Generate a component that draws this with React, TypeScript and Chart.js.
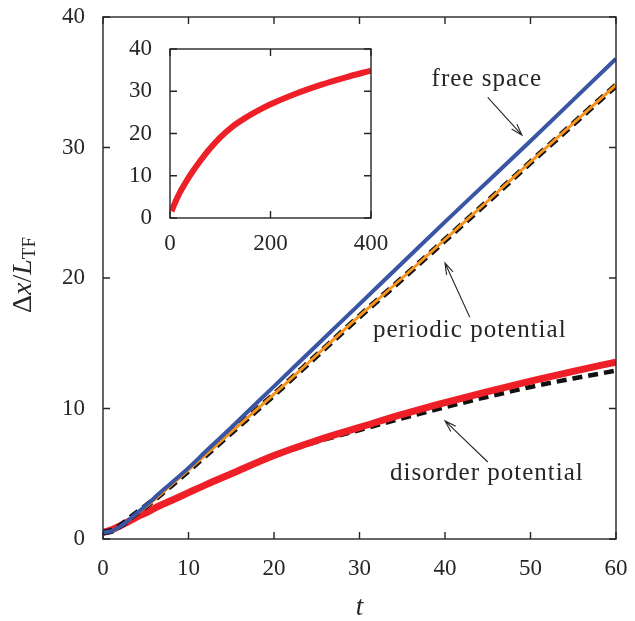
import React, { useEffect, useRef } from "react";
import { Chart, registerables } from "chart.js";

Chart.register(...registerables);

// ---- data ----
const timeMain = [0, 1, 2, 3, 4, 5, 6, 8, 10, 12, 15, 20, 25, 30, 35, 40, 45, 50, 55, 60];
const freeSpace = [0.5, 0.6, 0.95, 1.45, 2.0, 2.55, 3.15, 4.3, 5.45, 6.7, 8.55, 11.7, 14.85, 18.0, 21.15, 24.3, 27.4, 30.5, 33.65, 36.8];
const periodicSim = [0.5, 0.6, 0.95, 1.45, 1.95, 2.45, 3.0, 4.15, 5.3, 6.45, 8.2, 11.1, 14.1, 17.1, 20.0, 22.95, 25.9, 28.9, 31.85, 34.8];
const periodicModel = [0.5, 0.62, 1.0, 1.5, 2.02, 2.5, 3.03, 4.13, 5.26, 6.41, 8.16, 11.06, 14.06, 17.06, 19.96, 22.91, 25.86, 28.86, 31.81, 34.76];
const disorderSim = [0.5, 0.7, 1.0, 1.35, 1.7, 2.0, 2.35, 2.95, 3.55, 4.15, 5.0, 6.4, 7.55, 8.55, 9.55, 10.45, 11.3, 12.1, 12.85, 13.55];
const disorderModel = [0.5, 0.7, 1.0, 1.35, 1.7, 2.0, 2.35, 2.95, 3.55, 4.15, 5.0, 6.35, 7.45, 8.35, 9.25, 10.1, 10.9, 11.65, 12.3, 12.9];

const timeInset = [3, 10, 20, 30, 45, 60, 80, 100, 125, 150, 175, 200, 250, 300, 350, 400];
const disorderLong = [1.6, 3.6, 6.1, 8.2, 11.0, 13.5, 16.5, 19.1, 21.7, 23.7, 25.4, 26.9, 29.4, 31.5, 33.3, 34.9];

const mainXTicks = [0, 10, 20, 30, 40, 50, 60];
const mainYTicks = [0, 10, 20, 30, 40];
const insetXTicks = [0, 200, 400];
const insetYTicks = [0, 10, 20, 30, 40];

const annotationLabels = ["free space", "periodic potential", "disorder potential"];
// placement in data coordinates: text centre, arrow tail, arrow head
const annotationPlacement = [
  { tx: 44.9, ty: 35.2, x0: 45.0, y0: 33.85, x1: 49.0, y1: 30.95 },
  { tx: 42.9, ty: 16.0, x0: 42.9, y0: 17.0, x1: 40.0, y1: 21.15 },
  { tx: 44.9, ty: 5.05, x0: 45.0, y0: 5.9, x1: 40.0, y1: 9.05 },
];

const SERIF = '"Liberation Serif", "DejaVu Serif", serif';
const INK = "#262626";

const pts = (xs: number[], ys: number[]) => xs.map((x, i) => ({ x, y: ys[i] }));

function framePlugin(xt: number[], yt: number[], len: number) {
  return {
    id: "frameTicks",
    afterDraw(chart: any) {
      const { ctx, chartArea: a, scales } = chart;
      ctx.save();
      ctx.strokeStyle = INK;
      ctx.lineWidth = 1.4;
      ctx.beginPath();
      xt.forEach((v) => {
        const p = scales.x.getPixelForValue(v);
        ctx.moveTo(p, a.bottom);
        ctx.lineTo(p, a.bottom - len);
        ctx.moveTo(p, a.top);
        ctx.lineTo(p, a.top + len);
      });
      yt.forEach((v) => {
        const p = scales.y.getPixelForValue(v);
        ctx.moveTo(a.left, p);
        ctx.lineTo(a.left + len, p);
        ctx.moveTo(a.right, p);
        ctx.lineTo(a.right - len, p);
      });
      ctx.stroke();
      ctx.strokeRect(a.left, a.top, a.right - a.left, a.bottom - a.top);
      ctx.restore();
    },
  };
}

type Run = { text: string; font: string; dy?: number };
function drawRuns(ctx: CanvasRenderingContext2D, runs: Run[], cx: number, cy: number) {
  let total = 0;
  const widths = runs.map((r) => {
    ctx.font = r.font;
    const w = ctx.measureText(r.text).width;
    total += w;
    return w;
  });
  let x = cx - total / 2;
  ctx.textAlign = "left";
  ctx.textBaseline = "alphabetic";
  runs.forEach((r, i) => {
    ctx.font = r.font;
    ctx.fillText(r.text, x, cy + (r.dy || 0));
    x += widths[i];
  });
}

const labelsPlugin = {
  id: "labelsAndNotes",
  afterDatasetsDraw(chart: any) {
    const { ctx, chartArea: a, scales } = chart;
    const sx = scales.x, sy = scales.y;
    ctx.save();
    ctx.fillStyle = INK;
    ctx.strokeStyle = INK;
    // annotations
    annotationLabels.forEach((lab, i) => {
      const p = annotationPlacement[i];
      ctx.font = `25px ${SERIF}`;
      (ctx as any).letterSpacing = "1px";
      ctx.textAlign = "center";
      ctx.textBaseline = "middle";
      ctx.fillText(lab, sx.getPixelForValue(p.tx), sy.getPixelForValue(p.ty));
      (ctx as any).letterSpacing = "0px";
      const x0 = sx.getPixelForValue(p.x0), y0 = sy.getPixelForValue(p.y0);
      const x1 = sx.getPixelForValue(p.x1), y1 = sy.getPixelForValue(p.y1);
      ctx.lineWidth = 1.1;
      ctx.beginPath();
      ctx.moveTo(x0, y0);
      ctx.lineTo(x1, y1);
      const ang = Math.atan2(y1 - y0, x1 - x0);
      const hl = 12, hw = 0.3;
      ctx.moveTo(x1 - hl * Math.cos(ang - hw), y1 - hl * Math.sin(ang - hw));
      ctx.lineTo(x1, y1);
      ctx.lineTo(x1 - hl * Math.cos(ang + hw), y1 - hl * Math.sin(ang + hw));
      ctx.stroke();
    });
    // x axis title
    drawRuns(ctx, [{ text: "t", font: `italic 27px ${SERIF}` }], (a.left + a.right) / 2, 615);
    // y axis title
    ctx.translate(31, (a.top + a.bottom) / 2 - 3);
    ctx.rotate(-Math.PI / 2);
    drawRuns(
      ctx,
      [
        { text: "Δ", font: `28px ${SERIF}` },
        { text: "x", font: `italic 28px ${SERIF}` },
        { text: "/", font: `28px ${SERIF}` },
        { text: "L", font: `italic 28px ${SERIF}` },
        { text: "TF", font: `19px ${SERIF}`, dy: 4 },
      ],
      0,
      0
    );
    ctx.restore();
  },
};

const noPad = (s: any) => {
  s.paddingTop = 0;
  s.paddingBottom = 0;
  s.paddingLeft = 0;
  s.paddingRight = 0;
};

export default function App() {
  const mainRef = useRef<HTMLCanvasElement>(null);
  const insetRef = useRef<HTMLCanvasElement>(null);

  useEffect(() => {
    const tickFont = { family: SERIF, size: 23 };
    const main = new Chart(mainRef.current!, {
      type: "line",
      data: {
        datasets: [
          { data: pts(timeMain, freeSpace), borderColor: "#3a55a4", borderWidth: 4 },
          { data: pts(timeMain, periodicSim), borderColor: "#f7941d", borderWidth: 3 },
          { data: pts(timeMain, periodicModel), borderColor: "#111", borderWidth: 6, borderDash: [10, 6] },
          { data: pts(timeMain, disorderSim), borderColor: "#ee1f27", borderWidth: 7 },
          { data: pts(timeMain, disorderModel), borderColor: "#111", borderWidth: 4.5, borderDash: [10, 6] },
        ].map((d) => ({ ...d, pointRadius: 0, fill: false, cubicInterpolationMode: "monotone" as const })),
      },
      options: {
        animation: false,
        responsive: false,
        events: [],
        layout: { padding: { left: 0, right: 19, top: 17, bottom: 0 } },
        plugins: { legend: { display: false }, tooltip: { enabled: false } },
        scales: {
          x: {
            type: "linear",
            min: 0,
            max: 60,
            grid: { display: false, drawTicks: false },
            border: { display: false },
            ticks: { stepSize: 10, font: tickFont, color: INK, padding: 16, maxRotation: 0 },
            afterFit: (s: any) => { s.height = 82; noPad(s); },
          },
          y: {
            type: "linear",
            min: 0,
            max: 40,
            grid: { display: false, drawTicks: false },
            border: { display: false },
            ticks: { stepSize: 10, font: tickFont, color: INK, padding: 18 },
            afterFit: (s: any) => { s.width = 103; noPad(s); },
          },
        },
      },
      plugins: [framePlugin(mainXTicks, mainYTicks, 7), labelsPlugin],
    });

    const inset = new Chart(insetRef.current!, {
      type: "line",
      data: {
        datasets: [
          {
            data: pts(timeInset, disorderLong),
            borderColor: "#ee1f27",
            borderWidth: 6,
            pointRadius: 0,
            fill: false,
            cubicInterpolationMode: "monotone",
          },
        ],
      },
      options: {
        animation: false,
        responsive: false,
        events: [],
        layout: { padding: { left: 0, right: 19, top: 24, bottom: 0 } },
        plugins: { legend: { display: false }, tooltip: { enabled: false } },
        scales: {
          x: {
            type: "linear",
            min: 0,
            max: 400,
            grid: { display: false, drawTicks: false },
            border: { display: false },
            ticks: { stepSize: 200, font: tickFont, color: INK, padding: 12, maxRotation: 0 },
            afterFit: (s: any) => { s.height = 52; noPad(s); },
          },
          y: {
            type: "linear",
            min: 0,
            max: 40,
            grid: { display: false, drawTicks: false },
            border: { display: false },
            ticks: { stepSize: 10, font: tickFont, color: INK, padding: 18 },
            afterFit: (s: any) => { s.width = 70; noPad(s); },
          },
        },
      },
      plugins: [framePlugin(insetXTicks, insetYTicks, 7)],
    });

    return () => {
      main.destroy();
      inset.destroy();
    };
  }, []);

  return (
    <div style={{ position: "fixed", left: 0, top: 0, width: 635, height: 621, background: "#fff" }}>
      <canvas ref={mainRef} width={635} height={621} style={{ position: "absolute", left: 0, top: 0 }} />
      <canvas ref={insetRef} width={290} height={245} style={{ position: "absolute", left: 100, top: 25 }} />
    </div>
  );
}
